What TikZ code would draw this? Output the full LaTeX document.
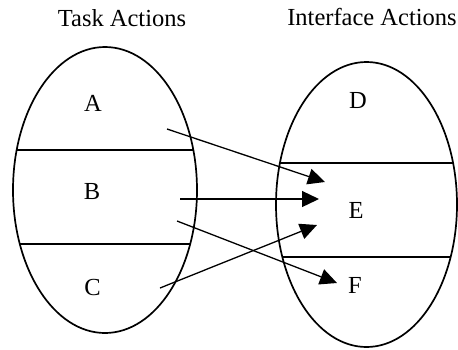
\documentclass[tikz,border=0pt]{standalone}
\usepackage{fontspec}
\setmainfont{Liberation Serif}
\usetikzlibrary{arrows.meta}
\begin{document}
\begin{tikzpicture}[x=1pt,y=-1pt,
  lbl/.style={anchor=base,inner sep=0pt,font=\fontsize{24.5}{28}\selectfont},
  setshape/.style={draw,line width=1.7pt},
  divider/.style={line width=1.3pt},
  mapto/.style={line width=1.3pt,-{Triangle[length=17pt,width=16pt]}}]
\useasboundingbox (0,0) rectangle (458,349);
% titles
\node[lbl] (tt) at (122,26) {Task Actions};
\node[lbl] (it) at (372,25) {Interface Actions};
% left set
\begin{scope}
  \clip (105,190) ellipse [x radius=92, y radius=143];
  \draw[divider] (0,150) -- (220,150);
  \draw[divider] (0,244) -- (220,244);
\end{scope}
\draw[setshape] (105,190) ellipse [x radius=92, y radius=143];
% right set
\begin{scope}
  \clip (366.5,204.5) ellipse [x radius=90.5, y radius=142.5];
  \draw[divider] (260,163) -- (470,163);
  \draw[divider] (260,257) -- (470,257);
\end{scope}
\draw[setshape] (366.5,204.5) ellipse [x radius=90.5, y radius=142.5];
% labels
\node[lbl] (A) at (93,111) {A};
\node[lbl] (B) at (92,199) {B};
\node[lbl] (C) at (92.5,295) {C};
\node[lbl] (D) at (358,108) {D};
\node[lbl] (E) at (356,218) {E};
\node[lbl] (F) at (355,293) {F};
% arrow ends
\coordinate (a1) at (167,129);
\coordinate (e1) at (325,182);
\coordinate (b1) at (180,199);
\coordinate (e2) at (319,199);
\coordinate (b2) at (177,221);
\coordinate (f1) at (337,283);
\coordinate (c1) at (160,288);
\coordinate (e3) at (317,225);
\draw[mapto] (a1) -- (e1);
\draw[mapto] (b1) -- (e2);
\draw[mapto] (b2) -- (f1);
\draw[mapto] (c1) -- (e3);
\end{tikzpicture}
\end{document}
